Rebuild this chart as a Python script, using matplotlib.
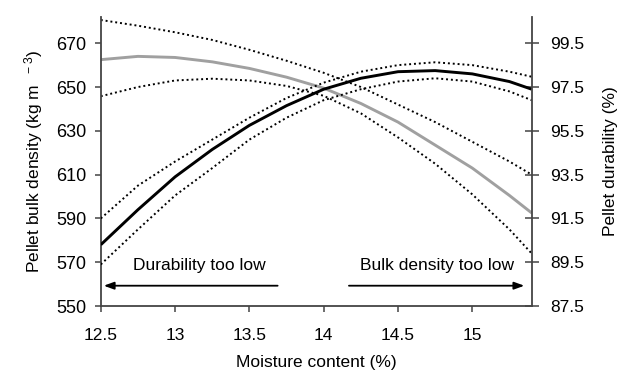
import numpy as np
import matplotlib
matplotlib.use("Agg")
import matplotlib.pyplot as plt

plt.rcParams['font.family'] = ['Liberation Sans', 'DejaVu Sans']
plt.rcParams['mathtext.default'] = 'regular'

# moisture content (%)
moisture = [12.5, 12.75, 13.0, 13.25, 13.5, 13.75, 14.0, 14.25, 14.5, 14.75, 15.0, 15.25, 15.4]

# pellet bulk density (kg m-3), grey curve + confidence band
density = [662.5, 664, 663.5, 661.5, 658.5, 654.5, 649.5, 642.5, 634, 623.5, 613, 600.5, 592.5]
density_hi = [680.6, 678, 675, 671.5, 667, 662, 656.5, 650, 642, 634, 625, 616, 610]
density_lo = [645.8, 650, 653, 653.8, 653, 650.5, 646, 638, 627, 615, 601, 585, 574]

# pellet durability (%), black curve + confidence band
durability = [90.3, 91.9, 93.4, 94.65, 95.75, 96.65, 97.4, 97.9, 98.2, 98.25, 98.1, 97.75, 97.4]
durability_hi = [91.5, 93.0, 94.1, 95.1, 96.1, 97.0, 97.7, 98.2, 98.5, 98.63, 98.5, 98.2, 97.97]
durability_lo = [89.4, 91.0, 92.55, 93.8, 95.1, 96.1, 96.9, 97.4, 97.75, 97.9, 97.75, 97.3, 96.9]

x_ticks = [12.5, 13, 13.5, 14, 14.5, 15]
x_ticklabels = ['12.5', '13', '13.5', '14', '14.5', '15']
left_ticks = [550, 570, 590, 610, 630, 650, 670]
right_ticks = [87.5, 89.5, 91.5, 93.5, 95.5, 97.5, 99.5]

fig = plt.figure(figsize=(6.3, 3.85), dpi=100)
ax = fig.add_axes([0.160, 0.205, 0.684, 0.751])
ax2 = ax.twinx()

dot = (0, (1, 1.5))
axis_col = '#444444'

ax.plot(moisture, density, color='#a0a0a0', lw=2.1, solid_capstyle='butt')
ax.plot(moisture, density_hi, color='black', lw=1.4, linestyle=dot)
ax.plot(moisture, density_lo, color='black', lw=1.4, linestyle=dot)

ax2.plot(moisture, durability, color='black', lw=2.1, solid_capstyle='butt')
ax2.plot(moisture, durability_hi, color='black', lw=1.4, linestyle=dot)
ax2.plot(moisture, durability_lo, color='black', lw=1.4, linestyle=dot)

ax.set_xlim(12.5, 15.4)
ax.set_ylim(550, 682)
ax2.set_ylim(87.5, 100.7)

ax.set_xticks(x_ticks)
ax.set_xticklabels(x_ticklabels)
ax.set_yticks(left_ticks)
ax2.set_yticks(right_ticks)
ax2.set_yticklabels([f'{t:.1f}' for t in right_ticks])

for a in (ax, ax2):
    a.spines['top'].set_visible(False)
    for s in ('left', 'right', 'bottom'):
        a.spines[s].set_color(axis_col)
        a.spines[s].set_linewidth(1.3)
ax.spines['right'].set_visible(False)
ax2.spines['left'].set_visible(False)
ax2.spines['bottom'].set_visible(False)

ax.tick_params(axis='both', direction='out', length=4.5, width=1.1, color=axis_col,
               labelsize=13, pad=6)
ax.tick_params(axis='x', labelsize=12.5, pad=11)
ax2.tick_params(axis='y', direction='inout', length=10, width=1.1, color=axis_col,
                labelsize=12.5, pad=8)

ax.set_xlabel('Moisture content (%)', fontsize=12.5, labelpad=9)
ax.set_ylabel(r'Pellet bulk density (kg m $^{\ -3}$)', fontsize=12.5, labelpad=8)
ax2.set_ylabel('Pellet durability (%)', fontsize=12.5, labelpad=14)

# region annotations
ax.text(13.165, 568.7, 'Durability too low', ha='center', va='center', fontsize=12.5)
ax.annotate('', xy=(12.52, 559.3), xytext=(13.69, 559.3),
            arrowprops=dict(arrowstyle='-|>,head_length=0.6,head_width=0.22',
                            color='black', lw=1.3, shrinkA=0, shrinkB=0))
ax.text(14.765, 568.7, 'Bulk density too low', ha='center', va='center', fontsize=12.5)
ax.annotate('', xy=(15.35, 559.3), xytext=(14.17, 559.3),
            arrowprops=dict(arrowstyle='-|>,head_length=0.6,head_width=0.22',
                            color='black', lw=1.3, shrinkA=0, shrinkB=0))

fig.savefig('out.png', dpi=100)
